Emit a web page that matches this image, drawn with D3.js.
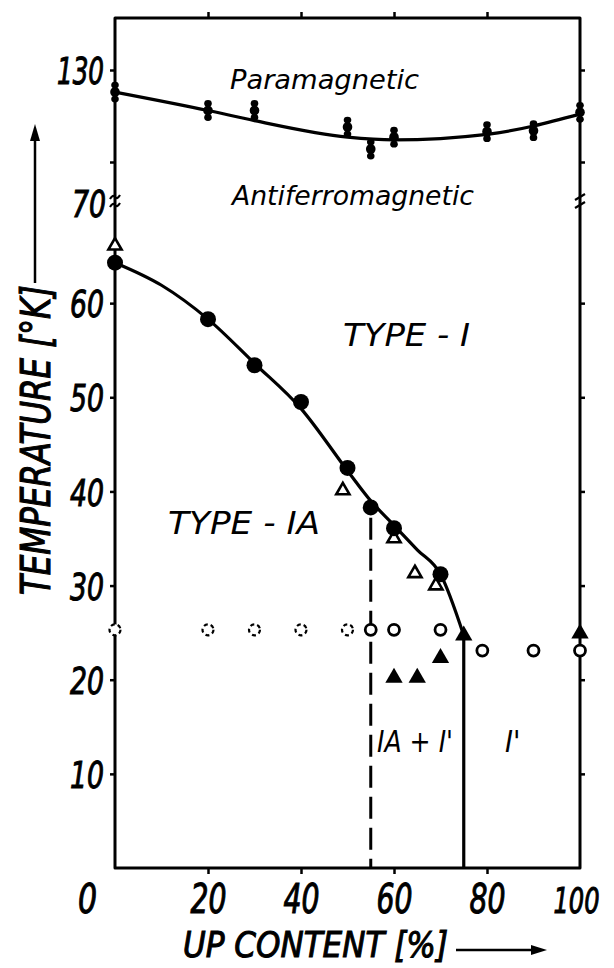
<!DOCTYPE html>
<html>
<head>
<meta charset="utf-8">
<script src="https://cdn.jsdelivr.net/npm/d3@7"></script>
<style>
  html, body { margin: 0; padding: 0; background: #fff; }
  svg { display: block; }
  text { font-family: 'Liberation Sans Narrow', 'DejaVu Sans Condensed', 'DejaVu Sans', sans-serif; font-style: italic; fill: #000; }
  .heavy { stroke: #000; stroke-width: 1px; }
</style>
</head>
<body>
<svg id="chart" width="614" height="968"></svg>
<script>
// ---- data: UP content [%] vs temperature [K] ----
// Néel temperature (upper, broken scale) with error bars
const neelX = [0, 20, 30, 50, 55, 60, 80, 90, 100];
const neelT = [127.6, 125.6, 125.6, 123.8, 121.4, 122.7, 123.3, 123.4, 125.4];
// drawn boundary paramagnetic / antiferromagnetic
const neelFitX = [0, 20, 30, 50, 60, 80, 100];
const neelFitT = [127.6, 125.6, 124.5, 122.7, 122.4, 123.0, 125.2];

// Type-I / Type-IA transition, filled circles
const circX = [0, 20, 30, 40, 50, 55, 60, 70];
const circT = [64.3, 58.3, 53.4, 49.5, 42.5, 38.3, 36.1, 31.2];
// Type-I / Type-IA transition, open triangles
const triOpenX = [0, 49, 60, 64.5, 69];
const triOpenT = [66.1, 40.1, 35.0, 31.3, 30.0];
// drawn Type-I / Type-IA boundary
const fitX = [0, 10, 20, 30, 40, 50, 55, 60, 65, 70, 75];
const fitT = [64.3, 61.9, 58.3, 53.6, 48.8, 42.2, 39.0, 36.4, 33.8, 31.2, 24.7];
// filled triangles
const triFillX = [75, 100, 60, 65, 70];
const triFillT = [24.7, 24.9, 20.2, 20.2, 22.3];
// open circles (broken outline for the first five)
const openBrokenX = [0, 20, 30, 40, 50];
const openBrokenT = [25.3, 25.3, 25.3, 25.3, 25.3];
const openX = [55, 60, 70, 79, 90, 100];
const openT = [25.3, 25.3, 25.3, 23.1, 23.1, 23.1];

// phase boundaries (vertical)
const dashedBoundaryX = 55, dashedBoundaryTop = 37.2;
const solidBoundaryX = 75, solidBoundaryTop = 24.7;

// axes
const xTicks = [0, 20, 40, 60, 80, 100];
const yLowTicks = [10, 20, 30, 40, 50, 60];
const yLowLabels = [10, 20, 30, 40, 50, 60, 70];
const yHighTicks = [120, 130];
const yHighLabels = [130];

const svg = d3.select('#chart');
const x = d3.scaleLinear().domain([0, 100]).range([115, 580]);
const yLow = d3.scaleLinear().domain([0, 70]).range([868, 209]);
const yHigh = d3.scaleLinear().domain([120, 130]).range([162, 70]);
const frameTop = 18;
const frameBottom = yLow(0);
const ink = '#000';
const digitWidth = s => String(s).length * 17;

// ---- frame ----
svg.append('path')
  .attr('d', `M${x(0)},${frameTop}H${x(100)}V${frameBottom}H${x(0)}Z`)
  .attr('fill', 'none').attr('stroke', ink).attr('stroke-width', 3)
  .attr('stroke-linejoin', 'round');

// ---- tick marks via d3 axes ----
function styleAxis(g) {
  g.select('.domain').remove();
  g.selectAll('.tick line').attr('stroke', ink).attr('stroke-width', 2.5);
  g.selectAll('.tick text').attr('fill', ink).attr('class', 'heavy');
}
// bottom
const gB = svg.append('g').attr('transform', `translate(0,${frameBottom})`)
  .call(d3.axisBottom(x).tickValues(xTicks).tickSizeInner(6).tickSizeOuter(0).tickPadding(10).tickFormat(d => d))
  .call(styleAxis);
gB.selectAll('.tick line').filter(d => d === 0 || d === 100).remove();
gB.selectAll('.tick text')
  .attr('font-size', d => d === 100 ? 36 : 40)
  .attr('dy', d => d === 100 ? '0.8em' : '0.72em')
  .attr('x', d => d === 0 ? -28 : (d === 100 ? -4 : 0))
  .attr('textLength', d => d === 100 ? 46 : digitWidth(d) + 2)
  .attr('lengthAdjust', 'spacingAndGlyphs');
// top
svg.append('g').attr('transform', `translate(0,${frameTop})`)
  .call(d3.axisTop(x).tickValues([20, 40, 60, 80]).tickSizeInner(6).tickSizeOuter(0).tickFormat(''))
  .call(styleAxis);
// left, lower range
const gL = svg.append('g').attr('transform', `translate(${x(0)},0)`)
  .call(d3.axisLeft(yLow).tickValues(yLowLabels).tickSizeInner(5).tickSizeOuter(0).tickPadding(6).tickFormat(d => d))
  .call(styleAxis);
gL.selectAll('.tick line').filter(d => d === 70).remove();
gL.selectAll('.tick text').attr('font-size', 38).attr('dy', '0.36em')
  .attr('textLength', d => digitWidth(d)).attr('lengthAdjust', 'spacingAndGlyphs');
gL.selectAll('.tick').filter(d => d === 70).select('text').attr('dy', '0.2em').attr('x', -9);
// left, upper range
const gLH = svg.append('g').attr('transform', `translate(${x(0)},0)`)
  .call(d3.axisLeft(yHigh).tickValues(yHighTicks).tickSizeInner(5).tickSizeOuter(0).tickPadding(6)
    .tickFormat(d => yHighLabels.includes(d) ? d : ''))
  .call(styleAxis);
gLH.selectAll('.tick text').filter(d => yHighLabels.includes(d))
  .attr('font-size', 38).attr('dy', '0.36em')
  .attr('textLength', d => digitWidth(d) - 4).attr('lengthAdjust', 'spacingAndGlyphs');
// right side
svg.append('g').attr('transform', `translate(${x(100)},0)`)
  .call(d3.axisRight(yLow).tickValues(yLowTicks).tickSizeInner(5).tickSizeOuter(0).tickFormat(''))
  .call(styleAxis);
svg.append('g').attr('transform', `translate(${x(100)},0)`)
  .call(d3.axisRight(yHigh).tickValues(yHighTicks).tickSizeInner(5).tickSizeOuter(0).tickFormat(''))
  .call(styleAxis);

// ---- scale break marks ----
const brk = svg.append('g').attr('fill', 'none').attr('stroke', ink).attr('stroke-width', 2.2);
[197, 205].forEach(yy => {
  brk.append('path').attr('d', `M${x(0) - 5},${yy + 2} q3,-5 5,-2 t5,-2`);
  brk.append('path').attr('d', `M${x(100) - 5},${yy + 3} L${x(100) + 5},${yy - 3}`);
});

// ---- axis titles ----
svg.append('text')
  .attr('class', 'heavy')
  .attr('transform', 'translate(50,440) rotate(-90)')
  .attr('text-anchor', 'middle')
  .attr('font-size', 40)
  .attr('textLength', 310).attr('lengthAdjust', 'spacingAndGlyphs')
  .text('TEMPERATURE [°K]');
svg.append('line').attr('x1', 35).attr('x2', 35).attr('y1', 283).attr('y2', 138)
  .attr('stroke', ink).attr('stroke-width', 2.5);
svg.append('path').attr('d', 'M35,124 L30,141 L40,141 Z').attr('fill', ink);

svg.append('text')
  .attr('class', 'heavy')
  .attr('x', 183).attr('y', 957)
  .attr('font-size', 36)
  .attr('textLength', 265).attr('lengthAdjust', 'spacingAndGlyphs')
  .text('UP CONTENT [%]');
svg.append('line').attr('x1', 456).attr('x2', 534).attr('y1', 950).attr('y2', 950)
  .attr('stroke', ink).attr('stroke-width', 2.5);
svg.append('path').attr('d', 'M547,950 L531,945 L531,955 Z').attr('fill', ink);

// ---- region labels ----
function label(txt, xx, yy, size, len) {
  const t = svg.append('text').attr('x', xx).attr('y', yy).attr('font-size', size).text(txt);
  if (len) t.attr('textLength', len).attr('lengthAdjust', 'spacingAndGlyphs');
}
label('Paramagnetic', 230, 89, 27, 189);
label('Antiferromagnetic', 232, 205, 27, 242);
label('TYPE - I', 343, 346, 32, 127);
label('TYPE - IA', 168, 534, 32, 152);
label("IA + I'", 377, 752, 30, 76);
label("I'", 505, 752, 30);

// ---- Néel temperature boundary ----
svg.append('path')
  .datum(neelFitX.map((d, i) => [d, neelFitT[i]]))
  .attr('d', d3.line().x(d => x(d[0])).y(d => yHigh(d[1])).curve(d3.curveMonotoneX))
  .attr('fill', 'none').attr('stroke', ink).attr('stroke-width', 3.2);

// error-bar points
const eb = svg.append('g').selectAll('g')
  .data(neelX.map((d, i) => [d, neelT[i]]))
  .join('g').attr('transform', d => `translate(${x(d[0])},${yHigh(d[1])})`);
eb.append('line').attr('y1', -8).attr('y2', 8).attr('stroke', ink).attr('stroke-width', 4);
eb.append('ellipse').attr('cy', -7).attr('rx', 3.8).attr('ry', 3.4).attr('fill', ink);
eb.append('ellipse').attr('cy', 7).attr('rx', 3.8).attr('ry', 3.4).attr('fill', ink);
eb.append('ellipse').attr('cy', 0).attr('rx', 4.8).attr('ry', 5).attr('fill', ink);

// ---- Type-I / Type-IA boundary ----
svg.append('path')
  .datum(fitX.map((d, i) => [d, fitT[i]]))
  .attr('d', d3.line().x(d => x(d[0])).y(d => yLow(d[1])).curve(d3.curveMonotoneX))
  .attr('fill', 'none').attr('stroke', ink).attr('stroke-width', 3.2);

// vertical boundaries
svg.append('line')
  .attr('x1', x(dashedBoundaryX)).attr('x2', x(dashedBoundaryX))
  .attr('y1', yLow(dashedBoundaryTop)).attr('y2', frameBottom)
  .attr('stroke', ink).attr('stroke-width', 3).attr('stroke-dasharray', '22,9');
svg.append('line')
  .attr('x1', x(solidBoundaryX)).attr('x2', x(solidBoundaryX))
  .attr('y1', yLow(solidBoundaryTop)).attr('y2', frameBottom)
  .attr('stroke', ink).attr('stroke-width', 3.2);

// ---- markers ----
const pts = (xs, ts) => xs.map((d, i) => [d, ts[i]]);
svg.append('g').selectAll('circle').data(pts(openBrokenX, openBrokenT)).join('circle')
  .attr('cx', d => x(d[0])).attr('cy', d => yLow(d[1])).attr('r', 5.5)
  .attr('fill', '#fff').attr('stroke', ink).attr('stroke-width', 2.2).attr('stroke-dasharray', '4,3');
svg.append('g').selectAll('circle').data(pts(openX, openT)).join('circle')
  .attr('cx', d => x(d[0])).attr('cy', d => yLow(d[1])).attr('r', 5.5)
  .attr('fill', '#fff').attr('stroke', ink).attr('stroke-width', 2.8);
svg.append('g').selectAll('path').data(pts(triOpenX, triOpenT)).join('path')
  .attr('transform', d => `translate(${x(d[0])},${yLow(d[1])})`)
  .attr('d', d3.symbol(d3.symbolTriangle, 75))
  .attr('fill', '#fff').attr('stroke', ink).attr('stroke-width', 2.6);
svg.append('g').selectAll('circle').data(pts(circX, circT)).join('circle')
  .attr('cx', d => x(d[0])).attr('cy', d => yLow(d[1])).attr('r', 8)
  .attr('fill', ink);
svg.append('g').selectAll('path').data(pts(triFillX, triFillT)).join('path')
  .attr('transform', d => `translate(${x(d[0])},${yLow(d[1])})`)
  .attr('d', d3.symbol(d3.symbolTriangle, 130))
  .attr('fill', ink);
</script>
</body>
</html>
